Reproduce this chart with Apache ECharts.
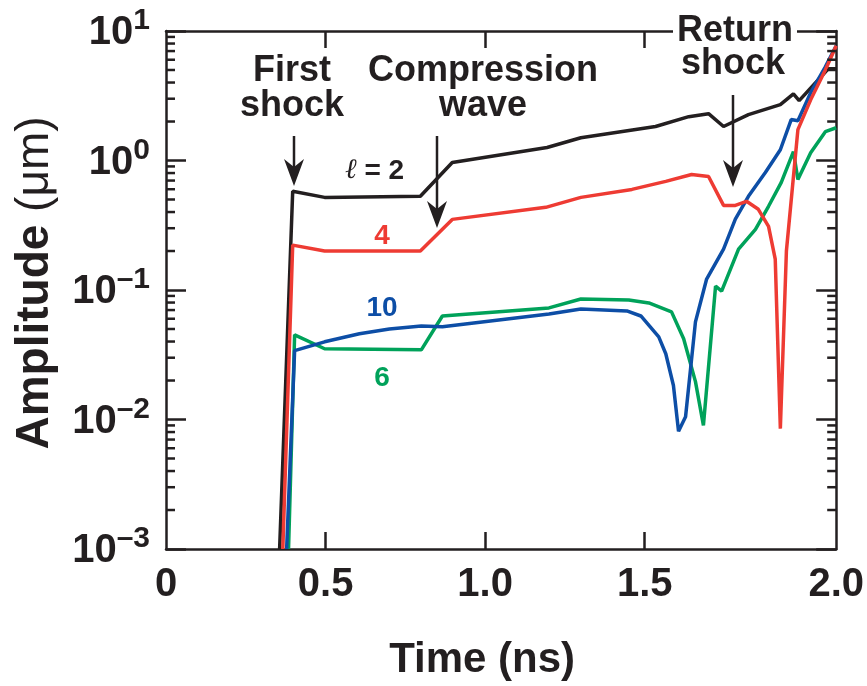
<!DOCTYPE html>
<html>
<head>
<meta charset="utf-8">
<script src="https://cdn.jsdelivr.net/npm/echarts@6/dist/echarts.min.js"></script>
<style>
  html, body { margin: 0; padding: 0; background: #fff; }
  #chart { width: 867px; height: 686px; }
</style>
</head>
<body>
<div id="chart"></div>
<script>
// ---- data (time in ns, amplitude in um) ----
const l2Time = [0.356, 0.397, 0.497, 0.797, 0.897, 1.194, 1.300, 1.534, 1.638, 1.700, 1.747, 1.825, 1.925, 1.966, 1.984, 2.044, 2.075, 2.100]
const l2Amp  = [0.001, 0.578, 0.519, 0.529, 0.966, 1.26, 1.50, 1.83, 2.18, 2.30, 1.83, 2.26, 2.70, 3.27, 2.90, 4.20, 5.1, 5.1]

const l4Time = [0.366, 0.397, 0.497, 0.797, 0.897, 1.190, 1.300, 1.460, 1.566, 1.647, 1.700, 1.747, 1.784, 1.819, 1.856, 1.888, 1.909, 1.925, 1.944, 1.980, 2.020, 2.066, 2.100]
const l4Amp  = [0.001, 0.222, 0.200, 0.200, 0.351, 0.435, 0.519, 0.598, 0.69, 0.78, 0.753, 0.45, 0.45, 0.484, 0.42, 0.31, 0.173, 0.0085, 0.20, 1.73, 2.94, 5.0, 7.7]

const l10Time = [0.378, 0.403, 0.497, 0.606, 0.700, 0.800, 0.866, 1.200, 1.300, 1.444, 1.488, 1.544, 1.566, 1.590, 1.606, 1.628, 1.659, 1.694, 1.747, 1.784, 1.825, 1.878, 1.925, 1.959, 1.980, 2.020, 2.066, 2.100]
const l10Amp  = [0.001, 0.034, 0.0398, 0.0459, 0.050, 0.0528, 0.052, 0.0653, 0.0714, 0.0689, 0.063, 0.0435, 0.0322, 0.0183, 0.0081, 0.0105, 0.0567, 0.1215, 0.207, 0.352, 0.529, 0.809, 1.21, 2.07, 2.03, 3.34, 5.28, 7.7]

const l6Time = [0.384, 0.403, 0.497, 0.800, 0.866, 1.200, 1.300, 1.450, 1.513, 1.584, 1.622, 1.659, 1.684, 1.722, 1.741, 1.794, 1.847, 1.888, 1.928, 1.966, 1.980, 2.020, 2.066, 2.100]
const l6Amp  = [0.001, 0.045, 0.0352, 0.0345, 0.063, 0.0727, 0.0853, 0.0838, 0.0794, 0.0678, 0.042, 0.0196, 0.009, 0.107, 0.098, 0.207, 0.294, 0.443, 0.678, 1.17, 0.714, 1.15, 1.67, 1.79]

// tick labels
const xLabelValues = [0, 0.5, 1, 1.5, 2.1]
const xLabels = ['0', '0.5', '1.0', '1.5', '2.0']
const xTickMarks = [0.5, 1, 1.5]
const yTickValues = [0.001, 0.01, 0.1, 1, 10]
const yExponents = ['\u20133', '\u20132', '\u20131', '0', '1']
const yDecades = [0.001, 0.01, 0.1, 1]
const yMinorSteps = [2, 3, 4, 5, 6, 7, 8, 9]

const X_MIN = 0, X_MAX = 2.1
const INK = '#231f20'
const RED = '#ee3b33'
const BLUE = '#0d4ea6'
const GREEN = '#00a25a'
const FONT = '"Liberation Sans", Arial, Helvetica, sans-serif'

function zip(xs, ys) {
    return xs.map((x, i) => [x, ys[i]])
}

// minor tick values of the log axis: 2..9 in every decade
const yMinorTicks = []
yDecades.forEach(d => yMinorSteps.forEach(s => yMinorTicks.push(+(d * s).toPrecision(3))))

let myChart = echarts.init(document.getElementById('chart'))

const axisLine = { show: true, onZero: false, lineStyle: { color: INK, width: 2.5 } }

function xAxisCfg(pos, withLabels) {
    return {
        type: 'value',
        position: pos,
        min: X_MIN,
        max: X_MAX,
        axisLine: axisLine,
        axisTick: { show: true, inside: true, length: 17, customValues: xTickMarks, lineStyle: { color: INK, width: 2.5 } },
        axisLabel: {
            show: withLabels,
            customValues: xLabelValues,
            margin: 16,
            color: INK,
            fontSize: 40,
            fontWeight: 'bold',
            fontFamily: FONT,
            formatter: v => {
                const i = xLabelValues.findIndex(t => Math.abs(t - v) < 1e-6)
                return i < 0 ? '' : xLabels[i]
            }
        },
        splitLine: { show: false }
    }
}

function yAxisCfg(pos, withLabels) {
    return {
        type: 'log',
        logBase: 10,
        position: pos,
        min: 0.001,
        max: 10,
        axisLine: axisLine,
        axisTick: { show: true, inside: true, length: 20, lineStyle: { color: INK, width: 2.5 } },
        minorTick: { show: false },
        axisLabel: {
            show: withLabels,
            margin: 16,
            padding: [16, 0, 0, 0],
            formatter: v => {
                const i = yTickValues.findIndex(t => Math.abs(Math.log10(t) - Math.log10(v)) < 1e-6)
                return i < 0 ? '' : '{b|10}{s|' + yExponents[i] + '}'
            },
            rich: {
                b: { fontSize: 40, lineHeight: 40, fontWeight: 'bold', fontFamily: FONT, color: INK, verticalAlign: 'bottom', padding: [0, 0, 6, 0] },
                s: { fontSize: 30, lineHeight: 30, fontWeight: 'bold', fontFamily: FONT, color: INK, verticalAlign: 'bottom', padding: [0, 0, 23, 0] }
            }
        },
        splitLine: { show: false },
        minorSplitLine: { show: false }
    }
}

let xBottom = xAxisCfg('bottom', true)
xBottom.name = 'Time (ns)'
xBottom.nameLocation = 'middle'
xBottom.nameGap = 90
xBottom.nameTextStyle = { color: INK, fontSize: 42, fontWeight: 'bold', fontFamily: FONT, padding: [0, 38, 0, 0] }

let yLeft = yAxisCfg('left', true)
yLeft.name = 'Amplitude {u|(\u03bcm)}'
yLeft.nameLocation = 'middle'
yLeft.nameRotate = 90
yLeft.nameGap = 108
yLeft.nameTextStyle = {
    color: INK, fontSize: 46, fontWeight: 'bold', fontFamily: FONT, padding: [0, 0, 0, 14],
    rich: { u: { color: INK, fontSize: 46, fontWeight: 'normal', fontFamily: FONT } }
}

function arrow(x, top, tip) {
    return [
        { type: 'line', z: 50, shape: { x1: x, y1: top, x2: x, y2: tip - 12 }, style: { stroke: INK, lineWidth: 2.5 } },
        { type: 'polygon', z: 50, shape: { points: [[x, tip], [x - 10, tip - 27], [x, tip - 19], [x + 10, tip - 27]] }, style: { fill: INK } }
    ]
}

function label(x, y, text, extra) {
    return {
        type: 'text', z: 60, x: x, y: y,
        style: Object.assign({
            text: text, fill: INK, font: 'bold 36px ' + FONT,
            align: 'center', verticalAlign: 'middle', lineHeight: 35
        }, extra || {})
    }
}

function line(data, color) {
    return { type: 'line', data: data, showSymbol: false, lineStyle: { color: color, width: 3.5 }, itemStyle: { color: color } }
}

const annotations = [
    label(292, 89, 'First\nshock'),
    label(483, 89, 'Compression\nwave'),
    label(735, 31, 'Return', { backgroundColor: '#fff', padding: [0, 4, 0, 4] }),
    label(733, 64, 'shock'),
    ...arrow(294, 136, 186),
    ...arrow(437, 136, 228),
    ...arrow(733, 95, 187),
    {
        type: 'text', z: 60, x: 345, y: 171,
        style: {
            text: '{l|\u2113}{b| = 2}', align: 'left', verticalAlign: 'middle',
            rich: {
                l: { font: 'italic 28px "DejaVu Serif", serif', fill: INK },
                b: { font: 'bold 28px ' + FONT, fill: INK }
            }
        }
    },
    label(382, 236, '4', { fill: RED, font: 'bold 28px ' + FONT }),
    label(382, 308, '10', { fill: BLUE, font: 'bold 28px ' + FONT }),
    label(382, 378, '6', { fill: GREEN, font: 'bold 28px ' + FONT })
]

let option = {
    backgroundColor: '#fff',
    animation: false,
    grid: { left: 166, right: 29, top: 31, bottom: 134, containLabel: false },
    xAxis: [xBottom, xAxisCfg('top', false)],
    yAxis: [yLeft, yAxisCfg('right', false)],
    series: [
        line(zip(l2Time, l2Amp), INK),
        line(zip(l6Time, l6Amp), GREEN),
        line(zip(l10Time, l10Amp), BLUE),
        line(zip(l4Time, l4Amp), RED)
    ],
    graphic: annotations
}

myChart.setOption(option)

// short minor ticks on both frame sides, positioned through the chart's own log scale
const xl = myChart.convertToPixel({ xAxisIndex: 0 }, X_MIN)
const xr = myChart.convertToPixel({ xAxisIndex: 0 }, X_MAX)
const minorTicks = []
yMinorTicks.forEach(v => {
    const y = myChart.convertToPixel({ yAxisIndex: 0 }, v)
    minorTicks.push(
        { type: 'line', z: 40, shape: { x1: xl, y1: y, x2: xl + 9, y2: y }, style: { stroke: INK, lineWidth: 2.5 } },
        { type: 'line', z: 40, shape: { x1: xr, y1: y, x2: xr - 9, y2: y }, style: { stroke: INK, lineWidth: 2.5 } }
    )
})
myChart.setOption({ graphic: annotations.concat(minorTicks) })
</script>
</body>
</html>
